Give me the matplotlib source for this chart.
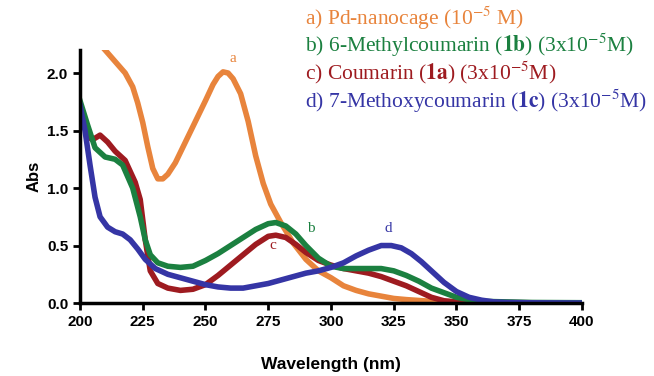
import matplotlib.pyplot as plt

# Curva a) Pd-nanocage
wl_a = [210, 214, 218, 221, 223, 225, 227, 229, 231, 233, 235, 238, 242, 246, 250, 253, 255, 257, 259, 261, 264,
        267, 270, 273, 276, 280, 285, 290, 295, 300, 305, 310, 315, 320, 325, 330, 340, 350, 360, 370, 380, 390, 400]
abs_a = [2.2, 2.1, 2.0, 1.88, 1.74, 1.57, 1.36, 1.17, 1.08, 1.08, 1.12, 1.22, 1.40, 1.58, 1.76, 1.90, 1.97, 2.01, 2.0, 1.95, 1.82,
         1.58, 1.28, 1.04, 0.86, 0.70, 0.52, 0.38, 0.28, 0.22, 0.15, 0.11, 0.08, 0.06, 0.04, 0.03, 0.015, 0.01, 0.005, 0.003, 0.002, 0.002, 0.002]

# Curva b) 6-Metilcumarina
wl_b = [200, 203, 206, 210, 214, 217, 221, 224, 226, 228, 231, 235, 240, 245, 250, 255, 260, 265, 270, 275, 278,
        282, 286, 290, 295, 300, 305, 310, 315, 320, 325, 330, 335, 340, 345, 350, 355, 360, 370, 380, 400]
abs_b = [1.76, 1.55, 1.35, 1.27, 1.25, 1.2, 1.0, 0.75, 0.55, 0.42, 0.35, 0.32, 0.31, 0.32, 0.37, 0.43, 0.5, 0.57, 0.64, 0.69, 0.70,
         0.67, 0.6, 0.5, 0.39, 0.32, 0.30, 0.30, 0.30, 0.30, 0.28, 0.24, 0.19, 0.13, 0.09, 0.05, 0.03, 0.015, 0.01, 0.005, 0.003]

# Curva c) Cumarina
wl_c = [200, 203, 205, 208, 211, 214, 218, 222, 224, 226, 228, 231, 235, 240, 245, 250, 255, 260, 265, 270, 275, 278,
        282, 286, 290, 295, 300, 305, 310, 315, 320, 325, 330, 335, 340, 345, 350, 360, 400]
abs_c = [1.72, 1.45, 1.42, 1.46, 1.40, 1.32, 1.24, 1.05, 0.9, 0.55, 0.28, 0.17, 0.13, 0.11, 0.12, 0.16, 0.24, 0.33, 0.42, 0.51, 0.58, 0.59,
         0.57, 0.51, 0.44, 0.37, 0.33, 0.30, 0.28, 0.26, 0.23, 0.19, 0.15, 0.10, 0.05, 0.02, 0.01, 0.005, 0.0]

# Curva d) 7-Metoxicumarina
wl_d = [200, 202, 204, 206, 208, 211, 214, 217, 220, 223, 226, 230, 235, 240, 245, 250, 255, 260, 265, 270, 275, 280,
        285, 290, 295, 300, 305, 310, 315, 320, 324, 328, 332, 336, 340, 345, 350, 355, 360, 365, 370, 380, 400]
abs_d = [1.72, 1.5, 1.2, 0.92, 0.75, 0.66, 0.62, 0.60, 0.55, 0.47, 0.38, 0.30, 0.25, 0.22, 0.19, 0.16, 0.14, 0.13, 0.13, 0.15, 0.17, 0.2,
         0.23, 0.26, 0.28, 0.31, 0.35, 0.41, 0.46, 0.50, 0.50, 0.48, 0.43, 0.36, 0.28, 0.18, 0.10, 0.05, 0.025, 0.01, 0.005, 0.002, 0.0]

x_ticks = [200, 225, 250, 275, 300, 325, 350, 375, 400]
y_ticks = [0.0, 0.5, 1.0, 1.5, 2.0]

naranja = "#E8843C"
verde = "#1B8040"
rojo = "#9E1B20"
azul = "#3535A5"

plt.rcParams['mathtext.fontset'] = 'stix'

fig = plt.figure(figsize=(6.54, 3.76), dpi=100)
ax = fig.add_axes([0.1223, 0.194, 0.7676, 0.673])

ax.plot(wl_a, abs_a, color=naranja, lw=4)
ax.plot(wl_c, abs_c, color=rojo, lw=4)
ax.plot(wl_b, abs_b, color=verde, lw=4)
ax.plot(wl_d, abs_d, color=azul, lw=4)

ax.set_xlim(200, 400)
ax.set_ylim(0, 2.2)
ax.set_xticks(x_ticks)
ax.set_yticks(y_ticks)
ax.set_xticklabels([str(t) for t in x_ticks], fontweight="bold", fontsize=11, family="Liberation Sans")
ax.set_yticklabels([f"{t:.1f}" for t in y_ticks], fontweight="bold", fontsize=11, family="Liberation Sans")
ax.spines["top"].set_visible(False)
ax.spines["right"].set_visible(False)
ax.spines["left"].set_linewidth(2.5)
ax.spines["bottom"].set_linewidth(2.5)
ax.tick_params(width=2, length=5)

ax.set_ylabel("Abs", fontweight="bold", fontsize=12, family="Liberation Sans")
ax.set_xlabel("Wavelength (nm)", fontweight="bold", fontsize=12.5, family="Liberation Sans", labelpad=20)

# Letras sobre las curvas
serif = "Liberation Serif"
ax.text(261, 2.13, "a", color=naranja, fontsize=11, family=serif, ha="center", va="center")
ax.text(292, 0.65, "b", color=verde, fontsize=11, family=serif, ha="center", va="center")
ax.text(277, 0.50, "c", color=rojo, fontsize=11, family=serif, ha="center", va="center")
ax.text(323, 0.65, "d", color=azul, fontsize=11, family=serif, ha="center", va="center")

# Leyenda como texto
fig.text(305/654, 1 - 18/376, r"a) Pd-nanocage (10$^{-5}$ M)", color=naranja, fontsize=15.5, family=serif, va="center")
fig.text(305/654, 1 - 45/376, r"b) 6-Methylcoumarin ($\mathbf{1b}$) (3x10$^{-5}$M)", color=verde, fontsize=15.5, family=serif, va="center")
fig.text(305/654, 1 - 73/376, r"c) Coumarin ($\mathbf{1a}$) (3x10$^{-5}$M)", color=rojo, fontsize=15.5, family=serif, va="center")
fig.text(305/654, 1 - 101/376, r"d) 7-Methoxycoumarin ($\mathbf{1c}$) (3x10$^{-5}$M)", color=azul, fontsize=15.5, family=serif, va="center")

fig.savefig("out.png", dpi=100)
